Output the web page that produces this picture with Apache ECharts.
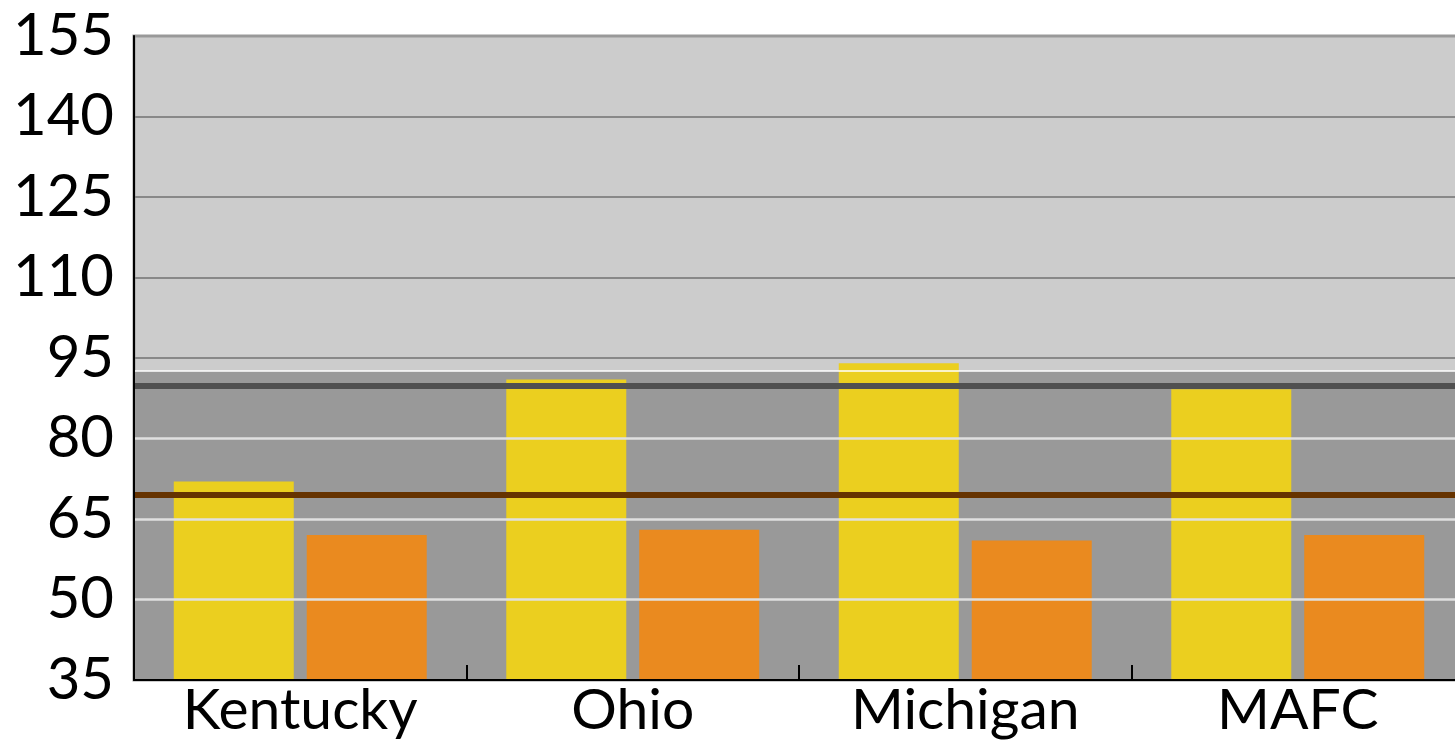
<!DOCTYPE html>
<html>
<head>
<meta charset="utf-8">
<script src="https://cdn.jsdelivr.net/npm/echarts@6/dist/echarts.min.js"></script>
<style>
html,body{margin:0;padding:0;background:#fff;overflow:hidden;width:1455px;height:750px;}
#chart{width:1464px;height:750px;}
</style>
</head>
<body>
<div id="chart"></div>
<script>
var categories = ['Kentucky', 'Ohio', 'Michigan', 'MAFC'];
var seriesA = [72, 91, 94, 89.2];
var seriesB = [62, 63, 61, 62];
var yTicks = [35, 50, 65, 80, 95, 110, 125, 140, 155];
var bandTop = 92.6;
var refLineHigh = 89.8;
var refLineLow = 69.6;

var FONT = 'Lato';
var darkGrid = yTicks.filter(function (v) { return v > 35 && v < bandTop; });
var lightGrid = yTicks.filter(function (v) { return v > bandTop && v < 155; });

var chart = echarts.init(document.getElementById('chart'));
chart.setOption({
  animation: false,
  backgroundColor: '#fff',
  grid: {
    left: 134, right: 0, top: 36, bottom: 70,
    show: true, backgroundColor: '#cccccc', borderColor: '#999', borderWidth: 3
  },
  xAxis: {
    type: 'category',
    data: categories,
    z: 10,
    axisLine: { lineStyle: { color: '#000', width: 2 } },
    axisTick: { show: true, inside: true, length: 15, alignWithLabel: false, lineStyle: { color: '#000', width: 2 } },
    axisLabel: { fontFamily: FONT, fontSize: 57, color: '#000', margin: 2 },
    splitLine: { show: false }
  },
  yAxis: {
    type: 'value',
    min: 35, max: 155, interval: 15,
    z: 10,
    axisLine: { show: true, lineStyle: { color: '#000', width: 2 } },
    axisTick: { show: false },
    axisLabel: { fontFamily: FONT, fontSize: 58, color: '#000', margin: 20 },
    splitLine: { show: false }
  },
  series: [
    {
      type: 'line', data: [null, null, null, null], z: 1, silent: true, symbol: 'none',
      markArea: {
        silent: true,
        itemStyle: { color: '#999999' },
        data: [[{ yAxis: 35 }, { yAxis: bandTop }]]
      }
    },
    {
      type: 'line', data: [null, null, null, null], z: 2, silent: true, symbol: 'none',
      markLine: {
        silent: true, symbol: 'none', label: { show: false },
        data: darkGrid.map(function (v) {
          return { yAxis: v, lineStyle: { color: '#e0e0e0', width: 2.5, type: 'solid' } };
        }).concat(lightGrid.map(function (v) {
          return { yAxis: v, lineStyle: { color: '#888', width: 2, type: 'solid' } };
        })).concat([{ yAxis: bandTop, lineStyle: { color: '#fff', width: 1.5, type: 'solid' } }])
      }
    },
    {
      type: 'bar', data: seriesA, z: 3, barWidth: 120, barGap: '10.8%',
      itemStyle: { color: '#EBCF1F' }
    },
    {
      type: 'bar', data: seriesB, z: 3, barWidth: 120, barGap: '10.8%',
      itemStyle: { color: '#EA8A1F' }
    },
    {
      type: 'line', data: [null, null, null, null], z: 4, silent: true, symbol: 'none',
      markLine: {
        silent: true, symbol: 'none', label: { show: false },
        data: [
          { yAxis: refLineHigh, lineStyle: { color: '#505050', width: 6, type: 'solid' } },
          { yAxis: refLineLow, lineStyle: { color: '#663300', width: 6, type: 'solid' } }
        ]
      }
    }
  ]
});
</script>
</body>
</html>
